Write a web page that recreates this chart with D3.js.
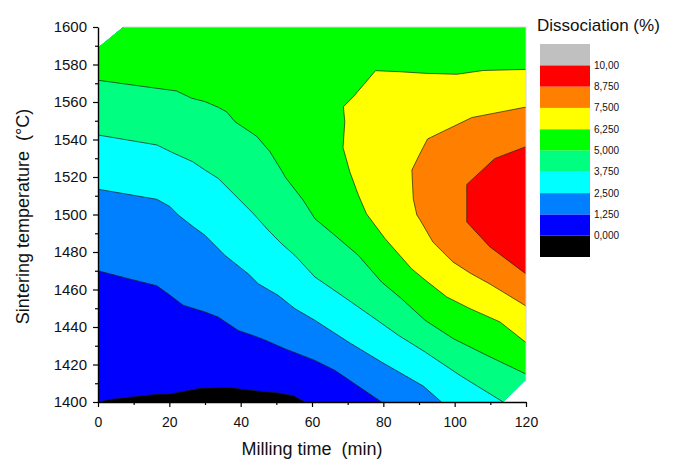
<!DOCTYPE html>
<html>
<head>
<meta charset="utf-8">
<script src="https://cdn.jsdelivr.net/npm/d3@7"></script>
<style>
  body { margin: 0; background: #fff; }
  svg { display: block; font-family: Arial, "Liberation Sans", sans-serif; }
</style>
</head>
<body>
<div id="chart"></div>
<script>
// Contour levels (legend reads bottom to top)
const levels = [0, 1.25, 2.5, 3.75, 5, 6.25, 7.5, 8.75, 10];
const levelLabels = ['0,000', '1,250', '2,500', '3,750', '5,000', '6,250', '7,500', '8,750', '10,00'];
const bandColors = ['#000000', '#0000ff', '#0080ff', '#00ffff', '#00ff80', '#00ff00', '#ffff00', '#ff8000', '#ff0000', '#c0c0c0'];

const xTicks = [0, 20, 40, 60, 80, 100, 120];
const xMinor = [10, 30, 50, 70, 90, 110];
const yTicks = [1400, 1420, 1440, 1460, 1480, 1500, 1520, 1540, 1560, 1580, 1600];
const yMinor = [1410, 1430, 1450, 1470, 1490, 1510, 1530, 1550, 1570, 1590];

// Measured area (the two corners without data are left blank)
const dataHull = [[0, 1400], [113.6, 1400], [120, 1412], [120, 1600], [7.1, 1600], [0, 1589]];

// Contour lines, [milling time (min), temperature (°C)]
const line000 = [[0, 1400], [3.4, 1401.4], [11.8, 1403.2], [16.5, 1404.1], [20.2, 1404.3], [24.9, 1406.0], [28.6, 1407.3],
  [37.0, 1407.8], [39.8, 1406.9], [45.4, 1405.7], [50.1, 1405.0], [54.8, 1403.4], [58.0, 1400]];
const line125 = [[0, 1470], [8.5, 1465.8], [16.5, 1462], [20.2, 1456.9], [23.9, 1451.6], [30, 1448], [33.7, 1445.3],
  [39.3, 1438.2], [45.9, 1433.8], [52.4, 1428.4], [60.8, 1422.2], [66.4, 1416.9], [72.9, 1408.5], [79.5, 1400]];
const line250 = [[0, 1513.5], [16.5, 1508.1], [20.2, 1504.2], [22.5, 1499.7], [26.7, 1493.5], [30, 1488.9], [35.6, 1478.2],
  [42.1, 1468.4], [44.9, 1463.1], [50.5, 1456.9], [55.2, 1449.8], [60.8, 1443.6], [70.2, 1432], [79.5, 1421.3],
  [91.2, 1408.5], [96.3, 1400]];
const line375 = [[0, 1542.4], [16.5, 1537.1], [20.9, 1533], [26.5, 1528.2], [30, 1523.7], [33.7, 1519.3], [37.9, 1511.3],
  [43.5, 1500.6], [47.7, 1491.7], [51.5, 1484.4], [55.2, 1478.2], [60.8, 1466.7], [68.3, 1456.9], [77.7, 1444.4],
  [84.2, 1435.6], [91.7, 1426.7], [101.5, 1414.2], [113.6, 1400]];
const line500 = [[0, 1571.6], [16.5, 1567.3], [22, 1565.9], [26.3, 1562], [30, 1560.2], [33.7, 1557.2], [36.1, 1554.7],
  [38.4, 1549.5], [44.5, 1541.7], [48.2, 1533.5], [51.9, 1522.1], [52.4, 1520.2], [57.5, 1507.7], [60.8, 1497.8],
  [66.4, 1488.9], [73, 1478.2], [79.5, 1464], [85.1, 1455.1], [91.7, 1443.6], [99.6, 1433.8], [109, 1424.9], [120, 1414.9]];
const line625 = [[120, 1577.4], [108, 1576.8], [100.6, 1574.8], [91.7, 1575.3], [84.2, 1576.2], [77.8, 1576.7], [72, 1563.7],
  [68.8, 1557.5], [69.2, 1549.5], [68.7, 1535.7], [70.6, 1522.8], [73, 1510.4], [75.3, 1500.3], [80.5, 1487.1],
  [87.9, 1471.1], [91.7, 1465.1], [97.8, 1456], [104.3, 1449.8], [112.7, 1442.7], [120, 1431.7]];
const line750 = [[120, 1557.3], [104.8, 1551.7], [92.4, 1540.3], [90.3, 1532.6], [88, 1523.7], [88.4, 1508.3], [89.4, 1499.7],
  [90.3, 1497.1], [93.9, 1485.3], [99.5, 1474.7], [104.3, 1468.8], [109.9, 1462.9], [120, 1451.2]];
const line875 = [[120, 1536.2], [111.2, 1529.8], [103.4, 1516], [103.4, 1496], [109.9, 1482.7], [120, 1468.3]];

const contourLines = [line000, line125, line250, line375, line500, line625, line750, line875];

const width = 674, height = 460;
const svg = d3.select('#chart').append('svg')
    .attr('width', width)
    .attr('height', height);

const x = d3.scaleLinear().domain([0, 120]).range([98, 526]);
const y = d3.scaleLinear().domain([1400, 1600]).range([402, 27]);

const line = d3.line().x(d => x(d[0])).y(d => y(d[1]));

svg.append('clipPath').attr('id', 'hull')
    .append('path').attr('d', line(dataHull) + 'Z');

const plot = svg.append('g').attr('clip-path', 'url(#hull)');

// lowest band fills the whole measured area
plot.append('path')
    .attr('d', line(dataHull) + 'Z')
    .attr('fill', bandColors[0]);

// region above each level, painted from low to high
function aboveLevel(pts, i) {
    if (i < 5) return pts.concat([[140, 1380], [140, 1620], [-20, 1620]]);
    const first = pts[0], last = pts[pts.length - 1];
    return pts.concat([[130, last[1]], [130, first[1]]]);
}

contourLines.forEach((pts, i) => {
    plot.append('path')
        .attr('d', line(aboveLevel(pts, i)) + 'Z')
        .attr('fill', bandColors[i + 1]);
});

contourLines.forEach(pts => {
    plot.append('path')
        .attr('d', line(pts))
        .attr('fill', 'none')
        .attr('stroke', '#1a1a1a')
        .attr('stroke-width', 0.8)
        .attr('stroke-opacity', 0.85);
});

// faint frame on the top and right edge
svg.append('path')
    .attr('d', line([[7.1, 1600], [120, 1600], [120, 1412]]))
    .attr('fill', 'none')
    .attr('stroke', '#d4d4d4')
    .attr('stroke-width', 1);

// Axes
const gx = svg.append('g').attr('transform', `translate(0,${y(1400)})`);
gx.call(d3.axisBottom(x).tickValues(xTicks).tickSize(5).tickPadding(10).tickSizeOuter(0));
gx.append('g').call(d3.axisBottom(x).tickValues(xMinor).tickSize(3).tickFormat(''))
    .select('.domain').remove();

const gy = svg.append('g').attr('transform', `translate(${x(0)},0)`);
gy.call(d3.axisLeft(y).tickValues(yTicks).tickSize(5).tickPadding(6).tickSizeOuter(0).tickFormat(d3.format('d')));
gy.append('g').call(d3.axisLeft(y).tickValues(yMinor).tickSize(3).tickFormat(''))
    .select('.domain').remove();

svg.selectAll('.domain').attr('stroke', '#000').attr('stroke-width', 1.4);
svg.selectAll('.tick line').attr('stroke', '#000').attr('stroke-width', 1.2);
svg.selectAll('.tick text')
    .attr('font-family', 'Arial, "Liberation Sans", sans-serif')
    .attr('font-size', 14)
    .attr('fill', '#111');
gy.selectAll('.tick text').attr('font-size', 15);

// Axis titles (keep the double space)
svg.append('text')
    .attr('x', (x(0) + x(120)) / 2)
    .attr('y', 455)
    .attr('text-anchor', 'middle')
    .attr('font-size', 18)
    .attr('fill', '#111')
    .style('white-space', 'pre')
    .text('Milling time  (min)');

svg.append('text')
    .attr('transform', `translate(29,${(y(1400) + y(1600)) / 2 + 2}) rotate(-90)`)
    .attr('text-anchor', 'middle')
    .attr('font-size', 18)
    .attr('fill', '#111')
    .style('white-space', 'pre')
    .text('Sintering temperature  (°C)');

// Colour legend
const legendY = d3.scaleLinear().domain([-1.25, 11.25]).range([257, 44]);
const legend = svg.append('g');

legend.selectAll('rect')
    .data(bandColors)
    .join('rect')
    .attr('x', 540)
    .attr('width', 50)
    .attr('y', (d, i) => legendY((i) * 1.25))
    .attr('height', (d, i) => legendY((i - 1) * 1.25) - legendY(i * 1.25))
    .attr('fill', d => d);

legend.selectAll('text.lab')
    .data(levels)
    .join('text')
    .attr('class', 'lab')
    .attr('x', 594)
    .attr('y', d => legendY(d))
    .attr('dy', '0.35em')
    .attr('font-size', 10)
    .attr('fill', '#111')
    .text((d, i) => levelLabels[i]);

svg.append('text')
    .attr('x', 537)
    .attr('y', 30.5)
    .attr('font-size', 17)
    .attr('fill', '#111')
    .text('Dissociation (%)');
</script>
</body>
</html>
